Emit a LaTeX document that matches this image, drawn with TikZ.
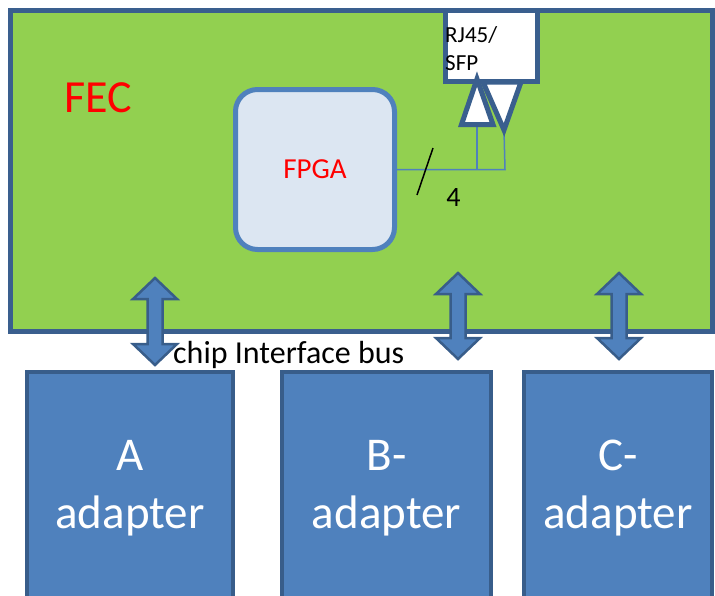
\documentclass[tikz,border=0pt]{standalone}
\usepackage{fontspec}
\setmainfont{Carlito}
\definecolor{fecgreen}{HTML}{92D050}
\definecolor{edgeblue}{HTML}{3A5F8E}
\definecolor{chipfill}{HTML}{DCE6F2}
\definecolor{midblue}{HTML}{4F81BD}
\definecolor{darkblue}{HTML}{385D8A}
\newcommand\busarrow[3]{%
  \draw[busshape] (#1,#2) -- ({#1+22},{#2+21}) -- ({#1+7.5},{#2+21})
    -- ({#1+7.5},{#3-21}) -- ({#1+22},{#3-21}) -- (#1,#3)
    -- ({#1-22},{#3-21}) -- ({#1-7.5},{#3-21}) -- ({#1-7.5},{#2+21})
    -- ({#1-22},{#2+21}) -- cycle;}
\begin{document}
\begin{tikzpicture}[x=1pt,y=-1pt,
  board/.style={rectangle, draw=edgeblue, line width=5pt, fill=fecgreen, inner sep=0pt},
  chip/.style={rectangle, rounded corners=22pt, draw=midblue, line width=5pt, fill=chipfill,
    inner sep=0pt, text=red, font=\fontsize{29}{35}\selectfont},
  port/.style={rectangle, draw=edgeblue, line width=5pt, fill=white, inner sep=0pt},
  tri/.style={draw=edgeblue, line width=5pt, fill=white},
  wire/.style={draw=midblue, line width=1.5pt},
  busshape/.style={draw=darkblue, line width=2.5pt, fill=midblue},
  adapter/.style={rectangle, draw=darkblue, line width=4pt, fill=midblue, inner sep=0pt,
    text=white, align=center, font=\fontsize{47}{58}\selectfont},
  plain/.style={inner sep=0pt}]
\useasboundingbox (0,0) rectangle (715,595);
\clip (0,0) rectangle (715,595);

% front-end card
\node[board, minimum width=702pt, minimum height=321pt] (fec) at (361.5,170.5) {};
\node[plain, anchor=base west, text=red, font=\fontsize{46}{55}\selectfont] (feclabel) at (64,112) {FEC};

% FPGA
\node[chip, minimum width=159pt, minimum height=160pt] (fpga) at (315,169.5) {FPGA};

% 4-wire link from the FPGA to the connector
\coordinate (jtx) at (477,169.5);
\coordinate (jrx) at (505,169.5);
\coordinate (txbase) at (477,124.5);
\coordinate (rxtip) at (504,130);
\draw[wire] (fpga.east) -- (jrx) -- (rxtip);
\draw[wire] (jtx) -- (txbase);
\coordinate (slashlo) at (417,195);
\coordinate (slashhi) at (433,148);
\draw[line width=1.5pt] (slashlo) -- (slashhi);
\node[plain, font=\fontsize{28}{34}\selectfont] (wirecount) at (453.5,197.5) {4};

% connector
\node[port, minimum width=92pt, minimum height=71.5pt] (rj) at (491,45.75) {};
\node[plain, anchor=base west, align=left, font=\fontsize{23}{28}\selectfont] (rjlabel) at (445,70) {RJ45/\\SFP};
\draw[tri] (483,82) -- (521,82) -- (rxtip) -- cycle;
\draw[tri] (461.5,124.5) -- (477,79) -- (493,124.5) -- cycle;

% adapter boards
\node[adapter, minimum width=206pt, minimum height=232pt] (adA) at (130,488) {A\\adapter};
\node[adapter, minimum width=209pt, minimum height=232pt] (adB) at (386.5,488) {B-\\adapter};
\node[adapter, minimum width=188pt, minimum height=232pt] (adC) at (618,488) {C-\\adapter};

% chip interface buses
\busarrow{155}{278}{365}
\busarrow{458}{273}{359}
\busarrow{619}{273}{359}
\node[plain, anchor=base west, font=\fontsize{32}{38}\selectfont] (buslabel) at (173,363) {chip Interface bus};
\end{tikzpicture}
\end{document}
